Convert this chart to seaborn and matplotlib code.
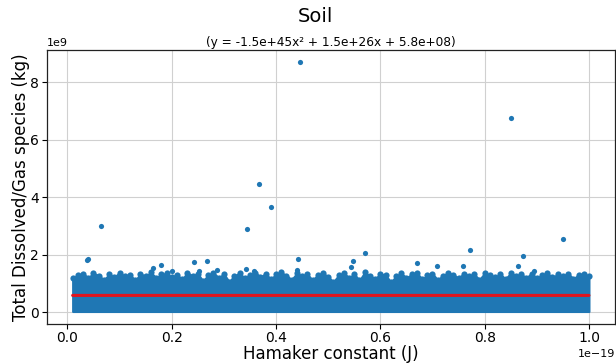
import numpy as np
import pandas as pd
import matplotlib
matplotlib.use("Agg")
import matplotlib.pyplot as plt
import seaborn as sns

# ---- data (x in 1e-19 J units, y in 1e9 kg) ----
band_x = [0.01, 0.02, 0.03, 0.04, 0.05, 0.06, 0.07, 0.08, 0.09, 0.10,
          0.11, 0.12, 0.13, 0.14, 0.15, 0.16, 0.17, 0.18, 0.19, 0.20,
          0.21, 0.22, 0.23, 0.24, 0.25, 0.26, 0.27, 0.28, 0.29, 0.30,
          0.31, 0.32, 0.33, 0.34, 0.35, 0.36, 0.37, 0.38, 0.39, 0.40,
          0.41, 0.42, 0.43, 0.44, 0.45, 0.46, 0.47, 0.48, 0.49, 0.50,
          0.51, 0.52, 0.53, 0.54, 0.55, 0.56, 0.57, 0.58, 0.59, 0.60,
          0.61, 0.62, 0.63, 0.64, 0.65, 0.66, 0.67, 0.68, 0.69, 0.70,
          0.71, 0.72, 0.73, 0.74, 0.75, 0.76, 0.77, 0.78, 0.79, 0.80,
          0.81, 0.82, 0.83, 0.84, 0.85, 0.86, 0.87, 0.88, 0.89, 0.90,
          0.91, 0.92, 0.93, 0.94, 0.95, 0.96, 0.97, 0.98, 0.99, 1.00]
band_top = [1.18, 1.28, 1.33, 1.20, 1.35, 1.27, 1.12, 1.31, 1.22, 1.37,
            1.24, 1.30, 1.10, 1.33, 1.25, 1.38, 1.19, 1.31, 1.35, 1.21,
            1.30, 1.14, 1.37, 1.26, 1.33, 1.08, 1.29, 1.36, 1.20, 1.32,
            1.06, 1.26, 1.35, 1.18, 1.30, 1.37, 1.23, 1.33, 1.15, 1.31,
            1.38, 1.27, 1.13, 1.35, 1.25, 1.32, 1.11, 1.29, 1.36, 1.22,
            1.05, 1.28, 1.35, 1.20, 1.32, 1.10, 1.38, 1.26, 1.16, 1.33,
            1.29, 1.04, 1.24, 1.35, 1.19, 1.31, 1.37, 1.14, 1.28, 1.33,
            1.12, 1.27, 1.36, 1.30, 1.18, 1.34, 1.26, 1.31, 1.13, 1.35,
            1.28, 1.21, 1.32, 1.15, 1.36, 1.26, 1.31, 1.20, 1.34, 1.17,
            1.29, 1.35, 1.21, 1.31, 1.25, 1.34, 1.16, 1.29, 1.32, 1.24]
band_floor = 0.02

out_x = [0.037, 0.040, 0.0645, 0.165, 0.180, 0.201, 0.242, 0.253, 0.267, 0.286,
         0.342, 0.345, 0.358, 0.367, 0.390, 0.440, 0.443, 0.446, 0.544, 0.548,
         0.570, 0.671, 0.708, 0.759, 0.772, 0.850, 0.864, 0.873, 0.895, 0.951]
out_y = [1.80, 1.83, 2.99, 1.53, 1.63, 1.42, 1.74, 1.42, 1.77, 1.46,
         1.51, 2.88, 1.44, 4.44, 3.64, 1.48, 1.84, 8.69, 1.58, 1.76,
         2.06, 1.71, 1.60, 1.59, 2.16, 6.77, 1.61, 1.96, 1.43, 2.54]

fit_a, fit_b, fit_c = -1.5e45, 1.5e26, 5.8e8
fit_x_range = [0.01, 1.00]

title = "Soil"
subtitle = "(y = -1.5e+45x\u00b2 + 1.5e+26x + 5.8e+08)"
xlabel = "Hamaker constant (J)"
ylabel = "Total Dissolved/Gas species (kg)"

# ---- build frames in SI units ----
X_UNIT, Y_UNIT = 1e-19, 1e9
band = pd.DataFrame({"x": np.array(band_x) * X_UNIT,
                     "top": np.array(band_top) * Y_UNIT})
outl = pd.DataFrame({"x": np.array(out_x) * X_UNIT,
                     "y": np.array(out_y) * Y_UNIT})
fx = np.array(fit_x_range) * X_UNIT
fit = pd.DataFrame({"x": fx, "y": fit_a * fx**2 + fit_b * fx + fit_c})

sns.set_style("ticks")
plt.rcParams["font.family"] = ["DejaVu Sans"]
plt.rcParams.update({"text.color": "black", "axes.labelcolor": "black",
                     "xtick.color": "black", "ytick.color": "black"})

fig = plt.figure(figsize=(6.16, 3.64), dpi=100)
ax = fig.add_axes([0.076, 0.110, 0.922, 0.753])

blue = "#1f77b4"
ax.fill_between(band["x"], band_floor * Y_UNIT, band["top"], color=blue,
                lw=1.5, edgecolor=blue, zorder=2)
sns.scatterplot(data=band, x="x", y="top", s=20, color=blue, linewidth=0,
                ax=ax, zorder=2)
sns.scatterplot(data=outl, x="x", y="y", s=14, color=blue, linewidth=0,
                ax=ax, zorder=2)
sns.lineplot(data=fit, x="x", y="y", color="#e0141e", lw=2.2, ax=ax, zorder=3)

ax.grid(True, color="#d0d0d0", lw=0.8)
ax.set_axisbelow(True)
for s in ax.spines.values():
    s.set_color("#222222")
    s.set_linewidth(0.9)
ax.tick_params(labelsize=10, length=3.5, width=0.8)
ax.tick_params(axis="x", pad=1.5)
ax.tick_params(axis="y", pad=2)
ax.xaxis.get_offset_text().set_fontsize(8)
ax.yaxis.get_offset_text().set_fontsize(8)

ax.set_xlabel(xlabel, fontsize=12, labelpad=0)
ax.set_ylabel(ylabel, fontsize=12, labelpad=0)
ax.set_title(subtitle, fontsize=8.7, pad=3)
fig.text(0.512, 0.955, title, fontsize=14, ha="center", va="center")

fig.savefig("out.png", dpi=100)
